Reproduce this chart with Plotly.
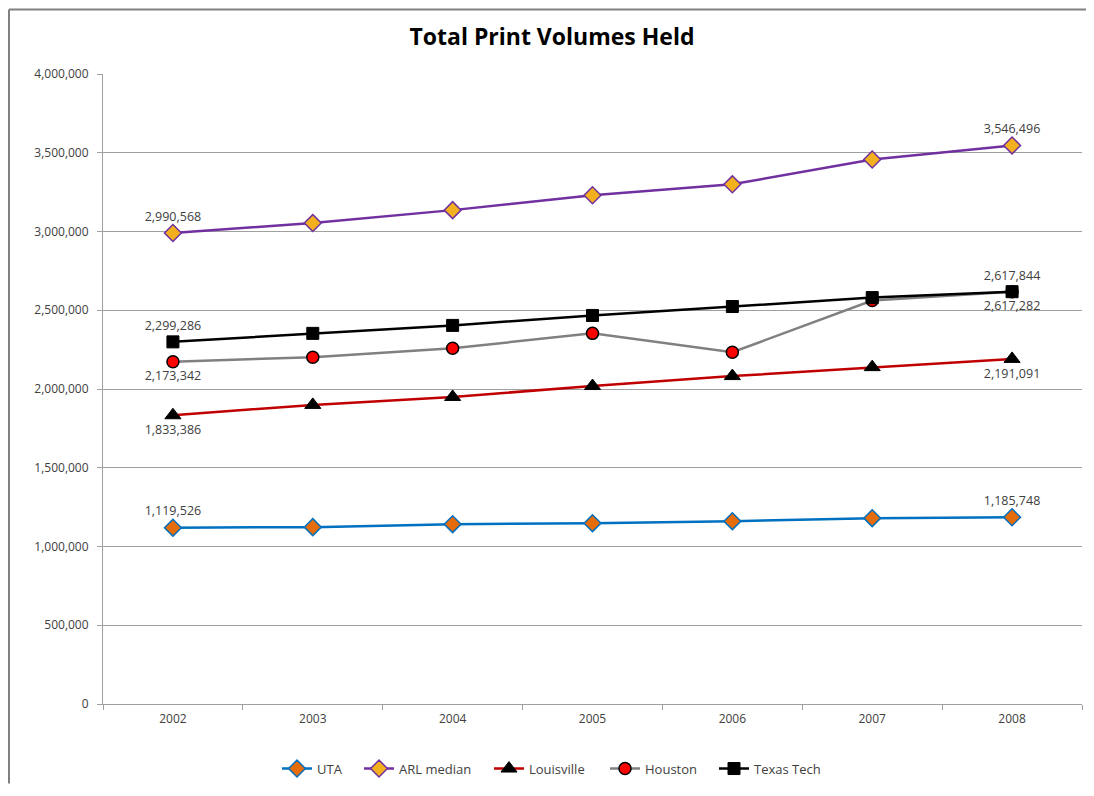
import plotly.graph_objects as go

years = ["2002", "2003", "2004", "2005", "2006", "2007", "2008"]
uta = [1119526, 1123000, 1141900, 1148000, 1160900, 1180000, 1185748]
arl_median = [2990568, 3053600, 3135700, 3230300, 3299700, 3457400, 3546496]
louisville = [1833386, 1899100, 1949500, 2018900, 2082000, 2138800, 2191091]
houston = [2173342, 2201900, 2258700, 2353300, 2233400, 2561500, 2617282]
texas_tech = [2299286, 2353300, 2403800, 2466900, 2523700, 2580400, 2617844]
y_ticks = [0, 500000, 1000000, 1500000, 2000000, 2500000, 3000000, 3500000, 4000000]

# page has an 8px body margin; figure is sized so the page fits the window
W, H = 1078, 780
L, R, T, B = 95, 4, 66, 80
PW, PH = W - L - R, H - T - B
OX = 8 + L  # page x of plot-area left edge

FONT = "Open Sans, Liberation Sans, sans-serif"

def end_labels(vals):
    return [f"{v:,}" if i in (0, len(vals) - 1) else "" for i, v in enumerate(vals)]

series = [
    ("UTA", uta, dict(color="#0070C0", width=2.5),
     dict(symbol="diamond", size=13, color="#E46C0A", line=dict(color="#0070C0", width=1.5)),
     "top center", 283),
    ("ARL median", arl_median, dict(color="#7030A0", width=2.5),
     dict(symbol="diamond", size=13, color="#F2B01E", line=dict(color="#7030A0", width=1.5)),
     "top center", 365),
    ("Louisville", louisville, dict(color="#C00000", width=2.5),
     dict(symbol="triangle-up", size=14, color="black", line=dict(color="black", width=1)),
     "bottom center", 495),
    ("Houston", houston, dict(color="#808080", width=2.5),
     dict(symbol="circle", size=12, color="#FF0000", line=dict(color="black", width=1.5)),
     "bottom center", 611),
    ("Texas Tech", texas_tech, dict(color="black", width=2.5),
     dict(symbol="square", size=12, color="black", line=dict(color="black", width=1)),
     "top center", 720),
]

fig = go.Figure()
legends = {}
for i, (name, vals, line, marker, pos, lx) in enumerate(series):
    key = "legend" if i == 0 else f"legend{i + 1}"
    fig.add_trace(go.Scatter(
        x=years, y=vals, name=name, mode="lines+markers+text",
        line=line, marker=marker,
        text=end_labels(vals), textposition=pos,
        textfont=dict(family=FONT, size=12.5, color="#404040"),
        cliponaxis=False, hoverinfo="skip", legend=key,
    ))
    legends[key] = dict(orientation="h", x=(lx - 6 - OX) / PW, xanchor="left",
                        y=-(773 - 708) / PH, yanchor="middle",
                        font=dict(family=FONT, size=13, color="#404040"),
                        itemwidth=30, bgcolor="rgba(0,0,0,0)")

fig.update_layout(
    width=W, height=H, autosize=False,
    margin=dict(l=L, r=R, t=T, b=B),
    paper_bgcolor="white", plot_bgcolor="white",
    title=dict(text="<b>Total Print Volumes Held</b>", x=(1094 / 2 - 8 + 5) / W, xanchor="center",
               y=1 - (37 - 8) / H, yanchor="middle",
               font=dict(family=FONT, size=23, color="black")),
    font=dict(family=FONT, size=12, color="#404040"),
    showlegend=True,
    xaxis=dict(type="category", range=[-0.5, 6.5], showgrid=False,
               showline=True, linecolor="#A0A0A0", linewidth=1,
               ticks="outside", tickson="boundaries", ticklen=5, tickcolor="#A0A0A0",
               ticklabelstandoff=4,
               tickfont=dict(size=12, color="#404040"), fixedrange=True),
    yaxis=dict(range=[0, 4000000], tickvals=y_ticks, tickformat=",d",
               showgrid=True, gridcolor="#A0A0A0", gridwidth=1,
               showline=True, linecolor="#A0A0A0", linewidth=1,
               ticks="outside", ticklen=5, tickcolor="#A0A0A0",
               ticklabelstandoff=6,
               zeroline=False, tickfont=dict(size=12, color="#404040"), fixedrange=True),
    shapes=[
        dict(type="line", xref="paper", yref="paper",
             x0=(1 - L) / PW, x1=(W - L) / PW,
             y0=(H - B - 1) / PH, y1=(H - B - 1) / PH,
             line=dict(color="#808080", width=2)),
        dict(type="line", xref="paper", yref="paper",
             x0=(1 - L) / PW, x1=(1 - L) / PW,
             y0=(H - B - 1) / PH, y1=-B / PH,
             line=dict(color="#808080", width=2)),
        dict(type="line", xref="paper", yref="paper", x0=0, x1=1, y0=1, y1=1,
             line=dict(color="white", width=2), layer="above"),
    ],
    **legends,
)

fig.write_html("out.html")
